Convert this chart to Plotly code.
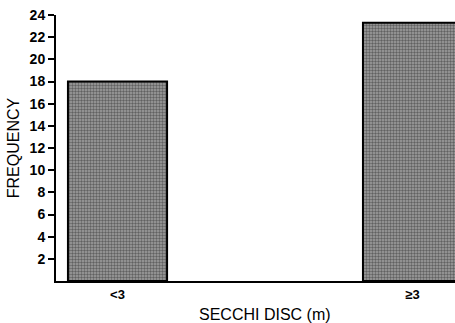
import plotly.graph_objects as go

categories = ["<3", "≥3"]
frequency = [18, 23.3]
y_ticks = list(range(2, 25, 2))

fig = go.Figure()
fig.add_trace(go.Bar(
    x=[0, 1], y=frequency, width=0.336,
    marker=dict(color="#8a8a8a",
                line=dict(color="black", width=2),
                pattern=dict(shape=".", size=3, solidity=0.5, fgcolor="#222222", bgcolor="#a0a0a0")),
))
fig.update_layout(
    width=455, height=323,
    margin=dict(l=56, r=0, t=15, b=42),
    paper_bgcolor="white", plot_bgcolor="white",
    showlegend=False,
    font=dict(family="Liberation Sans, Arial, sans-serif", color="black", size=13),
    xaxis=dict(range=[-0.2085, 1.144], tickvals=[0, 1], ticktext=categories,
               showline=True, linecolor="black", linewidth=2, showgrid=False, zeroline=False,
               ticks="", tickfont=dict(size=13, weight="bold")),
    yaxis=dict(range=[0, 24], tickvals=y_ticks, showline=True, linecolor="black", linewidth=2,
               showgrid=False, zeroline=False, ticks="outside", ticklen=6, tickwidth=1.5,
               tickcolor="black", tickfont=dict(size=14, weight="bold"),
               title=dict(text="FREQUENCY", font=dict(size=16), standoff=6)),
    annotations=[dict(text="SECCHI DISC (m)", xref="paper", yref="paper",
                      x=0.524, y=-0.125, xanchor="center", yanchor="middle",
                      showarrow=False, font=dict(size=16))],
)
fig.write_html("out.html")
